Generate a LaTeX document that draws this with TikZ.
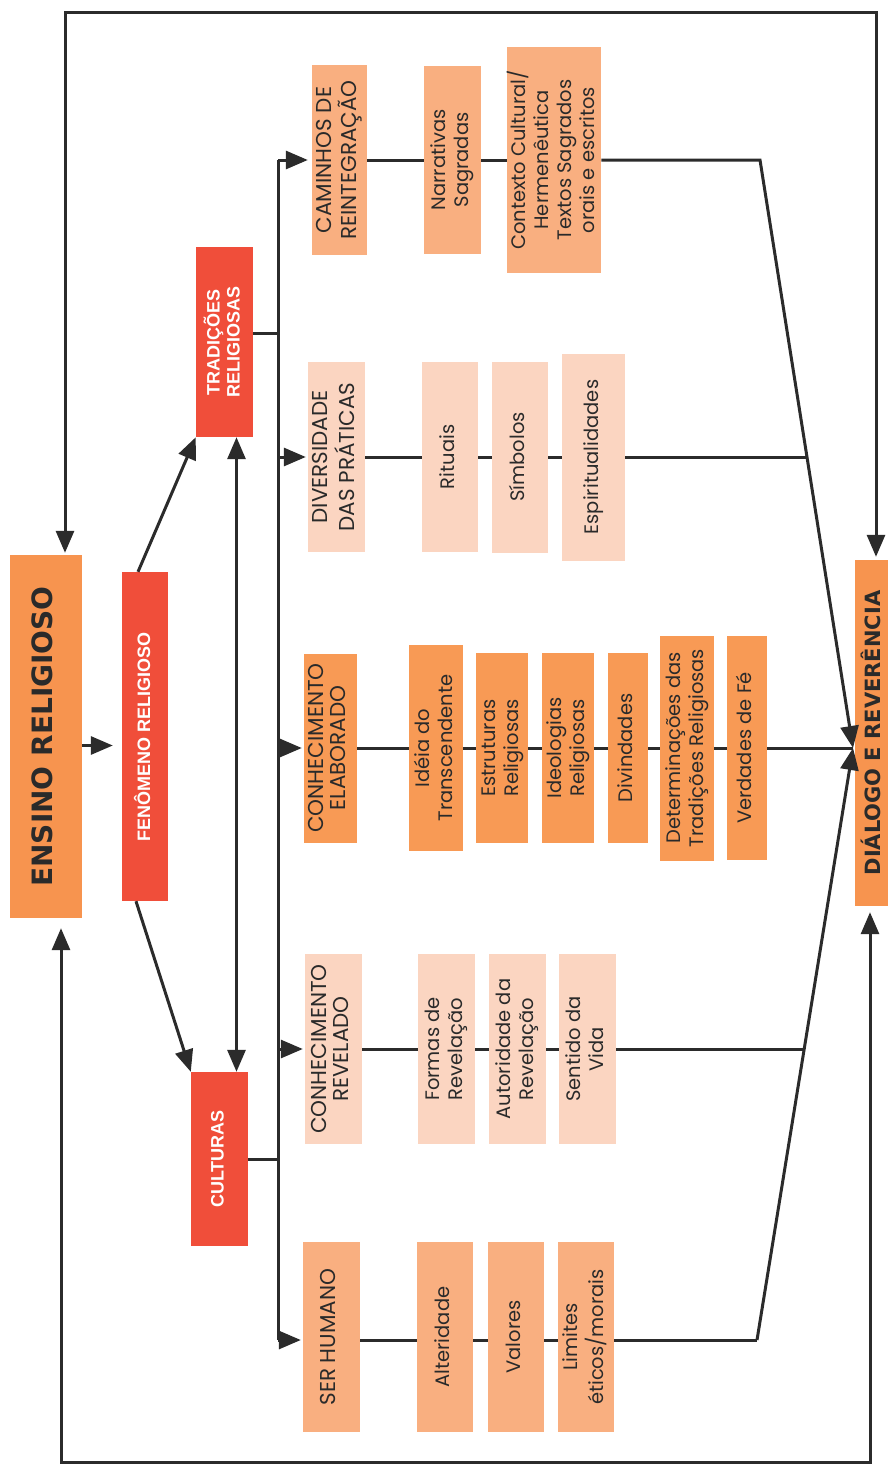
\documentclass[tikz,border=0pt]{standalone}
\usepackage{fontspec}
\usepackage{graphicx}
\setmainfont{Poppins}
\newfontfamily\redfont{Liberation Sans}
\newfontfamily\bigfont{DejaVu Sans}
\usetikzlibrary{arrows.meta}
\definecolor{lnC}{HTML}{2B2B2B}
\definecolor{txC}{HTML}{2A2A2A}
\definecolor{bigC}{HTML}{F7944F}
\definecolor{redC}{HTML}{F04E3A}
\definecolor{strongC}{HTML}{F89A55}
\definecolor{lightC}{HTML}{F9AF80}
\definecolor{paleC}{HTML}{FBD5C1}
\newcommand{\rt}[1]{\rotatebox{90}{\begin{tabular}{@{}c@{}}#1\end{tabular}}}
\tikzset{
  base/.style={draw=none, inner sep=0pt, text=txC, font=\fontsize{19.5}{23}\selectfont},
  headfont/.style={font=\fontsize{21.5}{22}\selectfont},
  bigbox/.style={base, fill=bigC, font=\bigfont\bfseries\fontsize{28}{32}\selectfont},
  redbox/.style={base, fill=redC, text=white, font=\redfont\bfseries\fontsize{18}{20}\selectfont},
  strongbox/.style={base, fill=strongC},
  lightbox/.style={base, fill=lightC},
  palebox/.style={base, fill=paleC},
  sz/.style 2 args={minimum width=#1pt, minimum height=#2pt},
  conn/.style={draw=lnC, line width=3pt},
  arr/.style={conn, -{Triangle[length=22pt,width=18pt]}},
  darr/.style={conn, {Triangle[length=22pt,width=18pt]}-{Triangle[length=22pt,width=18pt]}},
}
\begin{document}
\begin{tikzpicture}[x=1pt,y=-1pt]
\fill[white] (0,0) rectangle (888,1464);
\useasboundingbox (0,0) rectangle (888,1464);

% main boxes
\node[bigbox, sz={72}{363}] (ens) at (46,736.5) {\rt{ENSINO RELIGIOSO}};
\node[redbox, sz={46}{329}] (fen) at (145,736.5) {\rt{FENÔMENO RELIGIOSO}};
\node[redbox, sz={57}{190}] (trad) at (224.5,342) {\rt{TRADIÇÕES\\RELIGIOSAS}};
\node[redbox, sz={57}{174}] (cult) at (219.5,1159) {\rt{CULTURAS}};
\node[bigbox, sz={38}{346}, font=\bigfont\bfseries\fontsize{21}{24}\selectfont] (dia) at (874,733) {\rt{DIÁLOGO E REVERÊNCIA}};

% row 1
\node[lightbox, headfont, sz={55}{189}] (cam) at (339.5,160) {\rt{CAMINHOS DE\\REINTEGRAÇÃO}};
\node[lightbox, sz={57}{188}] (nar) at (452.5,160) {\rt{Narrativas\\Sagradas}};
\node[lightbox, sz={88}{226}] (ctx) at (554,160) {\rt{Contexto Cultural/\\Hermenêutica\\Textos Sagrados\\orais e escritos}};
% row 2
\node[palebox, headfont, sz={57}{190}] (div) at (336.5,457) {\rt{DIVERSIDADE\\DAS PRÁTICAS}};
\node[palebox, sz={56}{190}] (rit) at (450,457) {\rt{Rituais}};
\node[palebox, sz={56}{191}] (sim) at (520,457) {\rt{Símbolos}};
\node[palebox, sz={63}{207}] (esp) at (593.5,457) {\rt{Espiritualidades}};
% row 3
\node[strongbox, headfont, sz={53}{189}] (ela) at (330.5,748) {\rt{CONHECIMENTO\\ELABORADO}};
\node[strongbox, sz={54}{206}] (ide) at (436,748) {\rt{Idéia do\\Transcendente}};
\node[strongbox, sz={52}{190}] (est) at (502,748) {\rt{Estruturas\\Religiosas}};
\node[strongbox, sz={52}{190}] (ideo) at (568,748) {\rt{Ideologias\\Religiosas}};
\node[strongbox, sz={40}{190}] (dvd) at (628,748) {\rt{Divindades}};
\node[strongbox, sz={54}{225}] (det) at (687,748) {\rt{Determinações das\\Tradições Religiosas}};
\node[strongbox, sz={40}{224}] (ver) at (747,748) {\rt{Verdades de Fé}};
% row 4
\node[palebox, headfont, sz={57}{190}] (rev) at (333.5,1049) {\rt{CONHECIMENTO\\REVELADO}};
\node[palebox, sz={57}{190}] (for) at (446.5,1049) {\rt{Formas de\\Revelação}};
\node[palebox, sz={57}{190}] (aut) at (517.5,1049) {\rt{Autoridade da\\Revelação}};
\node[palebox, sz={57}{190}] (sen) at (587.5,1049) {\rt{Sentido da\\Vida}};
% row 5
\node[lightbox, headfont, sz={57}{190}] (ser) at (331.5,1337) {\rt{SER HUMANO}};
\node[lightbox, sz={56}{190}] (alt) at (445,1337) {\rt{Alteridade}};
\node[lightbox, sz={56}{190}] (val) at (516,1337) {\rt{Valores}};
\node[lightbox, sz={56}{190}] (lim) at (586,1337) {\rt{Limites\\éticos/morais}};

% coordinates
\coordinate (tl) at (65,13);
\coordinate (tr) at (876,13);
\coordinate (bl) at (61,1462);
\coordinate (br) at (870,1462);
\coordinate (bt) at (278,160);
\coordinate (bb) at (278,1340);
\coordinate (m) at (853,748);
\coordinate (c1) at (760,160);
\coordinate (c5) at (757,1340);
\coordinate (j2) at (807,457);
\coordinate (j4) at (804,1049);

% outer loops
\draw[darr, shorten <=2pt, shorten >=3pt] (ens.north -| tl) -- (tl) -- (tr) -- (tr |- dia.north);
\draw[darr, shorten <=10pt, shorten >=6pt] (ens.south -| bl) -- (bl) -- (br) -- (br |- dia.south);

% left part
\draw[arr, shorten >=9pt] ([yshift=-9pt]ens.east) -- ([yshift=-9pt]fen.west);
\draw[arr] ([xshift=-7pt]fen.north) -- (trad.south west);
\draw[arr] ([xshift=-9pt]fen.south) -- (cult.north west);
\draw[darr] ([xshift=12pt]trad.south) -- ([xshift=12pt]trad.south |- cult.north);

% bus
\draw[conn] ([yshift=9pt]trad.east) -- ([yshift=9pt]trad.east -| bt);
\draw[conn] (cult.east) -- (cult.east -| bt);
\draw[conn] (bt) -- (bb);
\draw[arr, shorten >=4pt] (bt) -- (cam.west);
\draw[arr, shorten >=2pt] (div.west -| bt) -- (div.west);
\draw[arr, shorten >=2pt] (ela.west -| bt) -- (ela.west);
\draw[arr, shorten >=2pt] (rev.west -| bt) -- (rev.west);
\draw[arr, shorten >=2pt] (bb) -- (ser.west |- bb);

% rows
\draw[conn] (cam.east) -- (nar.west) (nar.east) -- (ctx.west);
\draw[arr] (ctx.east) -- (c1) -- (m);
\draw[conn] (div.east) -- (rit.west) (rit.east) -- (sim.west) (sim.east) -- (esp.west) (esp.east) -- (j2);
\draw[conn] (ela.east) -- (ide.west) (ide.east) -- (est.west) (est.east) -- (ideo.west) (ideo.east) -- (dvd.west) (dvd.east) -- (det.west) (det.east) -- (ver.west) (ver.east) -- (m);
\draw[conn] (rev.east) -- (for.west) (for.east) -- (aut.west) (aut.east) -- (sen.west) (sen.east) -- (j4);
\draw[conn] (ser.east |- bb) -- (alt.west |- bb) (alt.east |- bb) -- (val.west |- bb) (val.east |- bb) -- (lim.west |- bb) (lim.east |- bb) -- (c5);
\draw[arr] (c5) -- (m);
\end{tikzpicture}
\end{document}
